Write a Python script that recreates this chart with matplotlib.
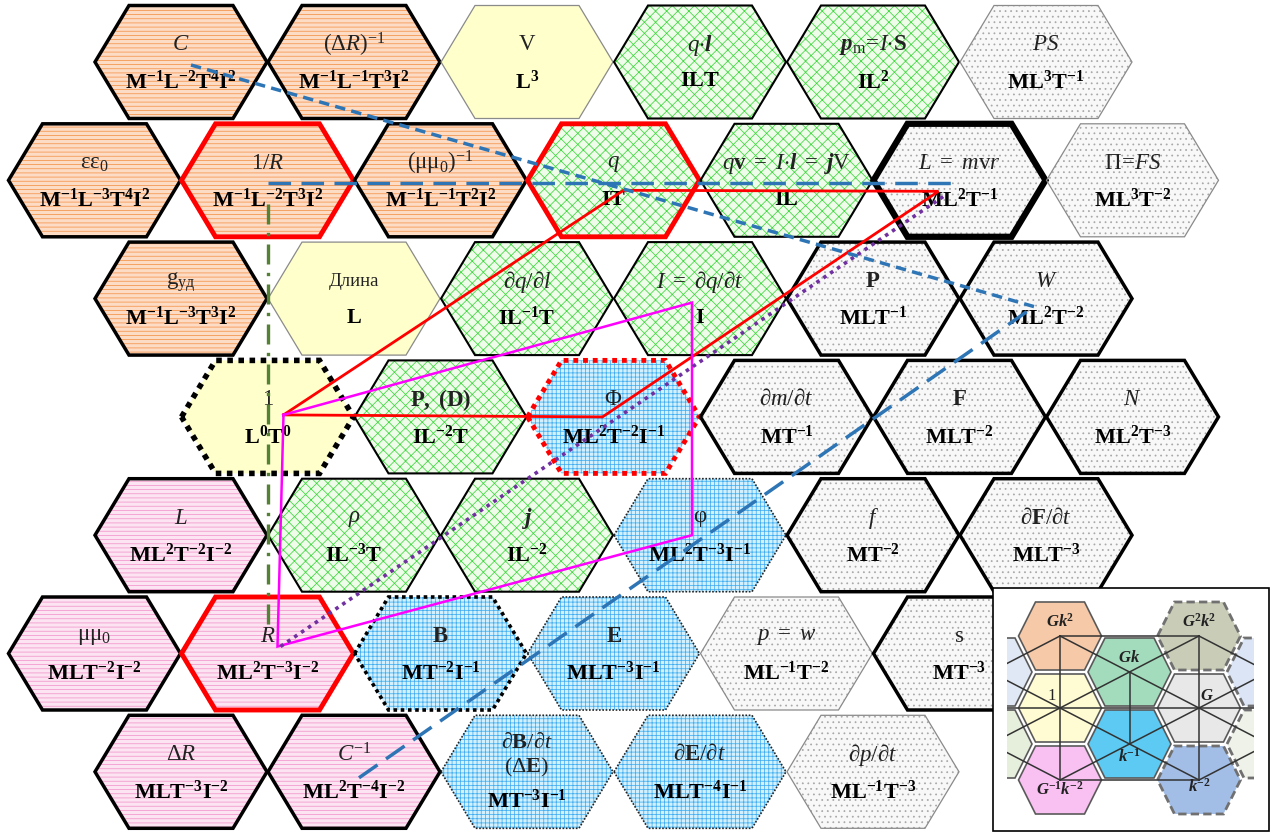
import re
import matplotlib
matplotlib.use('Agg')
import matplotlib.pyplot as plt
from matplotlib.patches import Polygon, Rectangle

plt.rcParams['hatch.linewidth'] = 0.55
plt.rcParams['mathtext.fontset'] = 'custom'
plt.rcParams['mathtext.rm'] = 'Liberation Serif'
plt.rcParams['mathtext.it'] = 'Liberation Serif:italic'
plt.rcParams['mathtext.bf'] = 'Liberation Serif:bold'
plt.rcParams['mathtext.bfit'] = 'Liberation Serif:italic:bold'
plt.rcParams['mathtext.sf'] = 'Liberation Serif'
plt.rcParams['font.family'] = ['Liberation Serif', 'DejaVu Serif']

# ---------------- data ----------------
hex_keys = ['C', 'dRinv', 'V', 'ql', 'pm', 'PS',
            'ee0', 'invR', 'mu0inv', 'q', 'qv', 'Lmom', 'Pi',
            'g', 'len', 'dqdl', 'I', 'Pmom', 'W',
            'one', 'PD', 'Phi', 'dmdt', 'F', 'N',
            'Lind', 'rho', 'j', 'phi', 'f', 'dFdt',
            'mu0', 'R', 'B', 'E', 'pw', 's',
            'dR', 'Cinv', 'dBdt', 'dEdt', 'dpdt']

hex_labels = [
    r'$C$', r'$(\Delta R)^{-1}$', r'$\mathrm{V}$', r'$q{\cdot}\mathbfit{l}$',
    r'$\mathbfit{p}_{\mathrm{m}}\!=\!I{\cdot}\mathbf{S}$', r'$PS$',
    r'$\mathrm{εε}_{0}$', r'$1/R$', r'$(\mathrm{μμ}_{0})^{-1}$', r'$q$',
    r'$q\mathbf{v}\ =\ I{\cdot}\mathbfit{l}\ =\ \mathbfit{j}\mathrm{V}$',
    r'$L\ =\ m\mathrm{v}r$', r'$\Pi\!=\!FS$',
    r'$\mathrm{g}_{\mathrm{уд}}$', 'Длина', r'$\partial q/\partial l$',
    r'$I\ =\ \partial q/\partial t$', r'$\mathbf{P}$', r'$W$',
    r'$\mathrm{1}$', r'$\mathbf{P,\ (D)}$', r'$\Phi$', r'$\partial m/\partial t$',
    r'$\mathbf{F}$', r'$N$',
    r'$L$', r'$\rho$', r'$\mathbfit{j}$', r'$\mathrm{φ}$', r'$f$',
    r'$\partial\mathbf{F}/\partial t$',
    r'$\mathrm{μμ}_{0}$', r'$R$', r'$\mathbf{B}$', r'$\mathbf{E}$',
    r'$p\ =\ w$', r'$\mathrm{s}$',
    r'$\Delta R$', r'$C^{-1}$',
    r'$\partial\mathbf{B}/\partial t$' + '\n' + r'$(\Delta\mathbf{E})$',
    r'$\partial\mathbf{E}/\partial t$', r'$\partial p/\partial t$',
]

hex_dims = [
    'M-1L-2T4I2', 'M-1L-1T3I2', 'L3', 'ILT', 'IL2', 'ML3T-1',
    'M-1L-3T4I2', 'M-1L-2T3I2', 'M-1L-1T2I2', 'IT', 'IL', 'ML2T-1', 'ML3T-2',
    'M-1L-3T3I2', 'L', 'IL-1T', 'I', 'MLT-1', 'ML2T-2',
    'L0T0', 'IL-2T', 'ML2T-2I-1', 'MT-1', 'MLT-2', 'ML2T-3',
    'ML2T-2I-2', 'IL-3T', 'IL-2', 'ML2T-3I-1', 'MT-2', 'MLT-3',
    'MLT-2I-2', 'ML2T-3I-2', 'MT-2I-1', 'MLT-3I-1', 'ML-1T-2', 'MT-3',
    'MLT-3I-2', 'ML2T-4I-2', 'MT-3I-1', 'MLT-4I-1', 'ML-1T-3',
]

hex_row = [0] * 6 + [1] * 7 + [2] * 6 + [3] * 6 + [4] * 6 + [5] * 6 + [6] * 5
hex_col = [1, 3, 5, 7, 9, 11,
           0, 2, 4, 6, 8, 10, 12,
           1, 3, 5, 7, 9, 11,
           2, 4, 6, 8, 10, 12,
           1, 3, 5, 7, 9, 11,
           0, 2, 4, 6, 8, 10,
           1, 3, 5, 7, 9]

hex_fill = ['orange', 'orange', 'yellow', 'green', 'green', 'gray',
            'orange', 'orange', 'orange', 'green', 'green', 'gray', 'gray',
            'orange', 'yellow', 'green', 'green', 'gray', 'gray',
            'yellow', 'green', 'blue', 'gray', 'gray', 'gray',
            'pink', 'green', 'green', 'blue', 'gray', 'gray',
            'pink', 'pink', 'blue', 'blue', 'gray', 'gray',
            'pink', 'pink', 'blue', 'blue', 'gray']

hex_edge = ['thick', 'thick', 'faint', 'thin', 'thin', 'faint',
            'thick', 'red', 'thick', 'red', 'thin', 'heavy', 'faint',
            'thick', 'faint', 'thin', 'thin', 'thick', 'thick',
            'dotk', 'thin', 'dotr', 'thick', 'thick', 'thick',
            'thick', 'thin', 'thin', 'dots', 'thick', 'thick',
            'thick', 'red', 'dotk2', 'dots', 'faint', 'thick',
            'thick', 'thick', 'dots', 'dots', 'faint']

# overlay paths: hex key + small nudge from its centre
path_blue_short = [('C', 10, 3), ('W', -12, 8)]
path_blue_horiz = [('invR', 0, 3), ('Lmom', 0, 3)]
path_blue_long = [('Cinv', 5, 6), ('W', -12, 8)]
path_green = [('invR', 0, 24), ('R', 0, -30)]
path_red = [('one', 16, -2), ('q', 10, 10), ('Lmom', -21, 11), ('Phi', -11, 0), ('one', 16, -2)]
path_magenta = [('one', 16, -2), ('I', -8, 4), ('phi', -8, 0), ('R', 10, -7), ('one', 16, -2)]
path_purple = [('R', 13, -7), ('Lmom', -13, 14)]

# inset data
inset_labels = [r'$\mathbfit{Gk}^{\mathbf{2}}$', r'$\mathbfit{Gk}$',
                r'$\mathbfit{G}^{\mathbf{2}}\mathbfit{k}^{\mathbf{2}}$', r'$\mathrm{1}$',
                r'$\mathbfit{G}$', r'$\mathbfit{k}^{\mathbf{-1}}$',
                r'$\mathbfit{G}^{\mathbf{-1}}\mathbfit{k}^{\mathbf{-2}}$', r'$\mathbfit{k}^{\mathbf{-2}}$',
                '', '', '', '']
inset_col = [0, 1, 2, 0, 2, 1, 0, 2, -1, -1, 3, 3]
inset_row = [0, 1, 0, 2, 2, 3, 4, 4, 1, 3, 1, 3]
inset_color = ['#f6c9a8', '#a3dcbc', '#c9cdb8', '#fffbd2', '#e8e8e8', '#5ccaf2',
               '#f9c0f2', '#a2bde6', '#e1e8f5', '#e6efdc', '#dbe5f5', '#eef2e8']
inset_dashed = [False, False, True, False, False, False, False, True, False, False, True, True]
inset_label_dx = [0, 0, 0, -8, 8, 0, 0, 0, 0, 0, 0, 0]
inset_label_dy = [-14, -14, -14, -12, -12, 13, 10, 7, 0, 0, 0, 0]

# ---------------- styles ----------------
FILL = {
    'orange': dict(face='#fddcc6', hatch='----', hc='#f39248'),
    'yellow': dict(face='#ffffcc', hatch=None, hc='none'),
    'green': dict(face='#effcea', hatch='xxx', hc='#3cd83c'),
    'blue': dict(face='#d2f0fd', hatch='++++', hc='#42aef0'),
    'gray': dict(face='#f8f8f8', hatch='...', hc='#a8a8a8'),
    'pink': dict(face='#fde4f2', hatch='----', hc='#f294cc'),
}
EDGE = {
    'thick': dict(c='black', lw=2.5, ls='-'),
    'thin': dict(c='black', lw=1.5, ls='-'),
    'faint': dict(c='#8a8a8a', lw=0.9, ls='-'),
    'red': dict(c='#ff0000', lw=3.5, ls='-'),
    'heavy': dict(c='black', lw=4.5, ls='-'),
    'dotk': dict(c='black', lw=4.0, ls=(0, (1, 1))),
    'dotr': dict(c='#ff0000', lw=3.5, ls=(0, (1, 1))),
    'dotk2': dict(c='black', lw=2.6, ls=(0, (1, 1))),
    'dots': dict(c='#222222', lw=1.2, ls=(0, (1, 1))),
}

X0, DXH, Y0, DY = 94.5, 86.5, 62.0, 118.3
HA, HT, HB = 86.0, 52.0, 56.5


def centre(r, c):
    return X0 + DXH * c, Y0 + DY * r


def hex_verts(x, y, a, t, b):
    return [(x - a, y), (x - t, y - b), (x + t, y - b), (x + a, y), (x + t, y + b), (x - t, y + b)]


def dims_math(s):
    parts = re.findall(r'([A-Z])(-?\d+)?', s)
    body = ''.join(ch + ('^{%s}' % e if e else '') for ch, e in parts)
    return r'$\mathbf{' + body + '}$'


fig = plt.figure(figsize=(12.74, 8.32), dpi=100)
ax = fig.add_axes([0, 0, 1, 1])
ax.set_xlim(0, 1274)
ax.set_ylim(832, 0)
ax.axis('off')

pos = {}
for key, lab, dm, r, c, fl, ed in zip(hex_keys, hex_labels, hex_dims, hex_row, hex_col, hex_fill, hex_edge):
    x, y = centre(r, c)
    pos[key] = (x, y)
    v = hex_verts(x, y, HA, HT, HB)
    fs = FILL[fl]
    ax.add_patch(Polygon(v, closed=True, facecolor=fs['face'], edgecolor=fs['hc'],
                         hatch=fs['hatch'], linewidth=0, zorder=1))
    es = EDGE[ed]
    ax.add_patch(Polygon(v, closed=True, fill=False, edgecolor=es['c'], linewidth=es['lw'],
                         linestyle=es['ls'], joinstyle='miter', zorder=2))
    if '\n' in lab:
        ax.text(x, y - 16, lab, ha='center', va='center', fontsize=16, color='#222222',
                linespacing=1.2, zorder=3)
        ax.text(x, y + 29, dims_math(dm), ha='center', va='center', fontsize=16, zorder=3)
    else:
        fsz = 13.5 if lab == 'Длина' else 16.5
        ax.text(x, y - 17, lab, ha='center', va='center', fontsize=fsz, color='#222222', zorder=3)
        ax.text(x, y + 20, dims_math(dm), ha='center', va='center', fontsize=16, zorder=3)


def path_xy(path):
    xs = [pos[k][0] + dx for k, dx, dy in path]
    ys = [pos[k][1] + dy for k, dx, dy in path]
    return xs, ys


xs, ys = path_xy(path_red)
ax.plot(xs, ys, color='#ff0000', lw=2.0, zorder=5, solid_joinstyle='miter')
xs, ys = path_xy(path_magenta)
ax.plot(xs, ys, color='#ff00ff', lw=1.8, zorder=5, solid_joinstyle='miter')
xs, ys = path_xy(path_purple)
ax.plot(xs, ys, color='#7030a0', lw=2.6, zorder=5, linestyle=(0, (1, 1.3)))
xs, ys = path_xy(path_green)
ax.plot(xs, ys, color='#548235', lw=2.4, zorder=5, linestyle=(0, (6, 2.5, 1, 2.5)))
xs, ys = path_xy(path_blue_short)
ax.plot(xs, ys, color='#2e75b6', lw=2.5, zorder=5, linestyle=(0, (3, 1.8)))
xs, ys = path_xy(path_blue_horiz)
ax.plot(xs, ys, color='#2e75b6', lw=2.5, zorder=5, linestyle=(0, (6.5, 3)))
xs, ys = path_xy(path_blue_long)
ax.plot(xs, ys, color='#2e75b6', lw=2.5, zorder=5, linestyle=(0, (6.5, 3)))

# ---------------- inset ----------------
IX0, IDX, IY0, IDY = 1060.0, 69.5, 636.0, 36.0
IA, IT, IB = 41.5, 24.5, 34.0
ax.add_patch(Rectangle((993, 588), 276, 243, facecolor='white', edgecolor='black', lw=1.2, zorder=20))
clip = Rectangle((1007, 590), 247, 240, transform=ax.transData, facecolor='none', edgecolor='none')
ax.add_patch(clip)

ipos = []
for lab, c, r, col, dsh, ldx, ldy in zip(inset_labels, inset_col, inset_row, inset_color,
                                         inset_dashed, inset_label_dx, inset_label_dy):
    x, y = IX0 + IDX * c, IY0 + IDY * r
    ipos.append((c, r, x, y))
    v = hex_verts(x, y, IA, IT, IB)
    p = Polygon(v, closed=True, facecolor=col,
                edgecolor='#707070' if dsh else '#5a5a5a',
                linewidth=2.0 if dsh else 1.2,
                linestyle=(0, (3, 1.5)) if dsh else '-', zorder=21)
    ax.add_patch(p)
    p.set_clip_path(clip)
    if lab:
        ax.text(x + ldx, y + ldy, lab, ha='center', va='center', fontsize=12, color='#222222', zorder=24)

segs = []
for i in range(len(ipos)):
    for j in range(i + 1, len(ipos)):
        c1, r1, x1, y1 = ipos[i]
        c2, r2, x2, y2 = ipos[j]
        if (abs(c1 - c2) == 1 and abs(r1 - r2) == 1) or (c1 == c2 and abs(r1 - r2) == 2):
            segs.append(((x1, x2), (y1, y2)))
for rr, ca, cb in [(0, 0, 2), (2, -1, 3), (4, 0, 2)]:
    segs.append(((IX0 + IDX * ca, IX0 + IDX * cb), (IY0 + IDY * rr, IY0 + IDY * rr)))
for sx, sy in segs:
    ln, = ax.plot(sx, sy, color='#333333', lw=1.1, zorder=22)
    ln.set_clip_path(clip)

fig.savefig('out.png', dpi=100)
